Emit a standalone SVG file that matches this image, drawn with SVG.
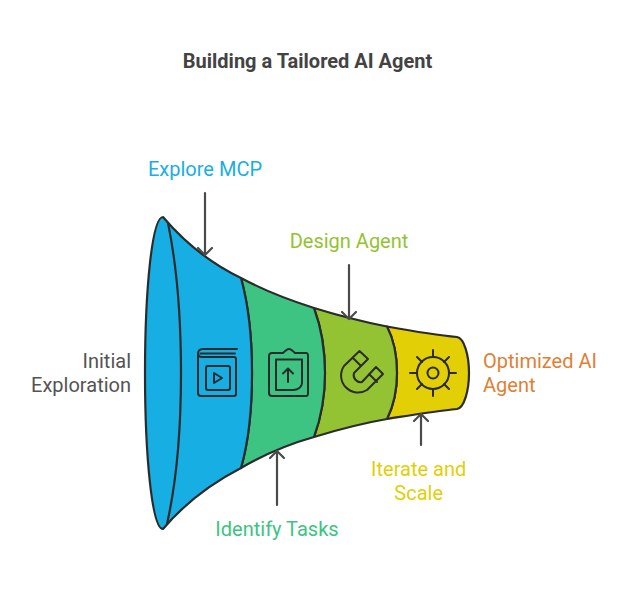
<svg xmlns="http://www.w3.org/2000/svg" width="638" height="590" viewBox="0 0 638 590">
<style>
text{font-family:Roboto,"Liberation Sans",sans-serif;font-size:20px}
.s{stroke:#2b2b2b;stroke-width:2.2;stroke-linejoin:round;stroke-linecap:round}
.i{fill:none;stroke:#2b2b2b;stroke-width:2;stroke-linejoin:round;stroke-linecap:round}
.a{fill:none;stroke:#4a4a4a;stroke-width:2.2;stroke-linecap:round;stroke-linejoin:round}
</style>
<rect width="638" height="590" fill="#fff"/>
<text x="307.500" y="68" text-anchor="middle" style="font-size:20px;font-weight:700" fill="#434343">Building a Tailored AI Agent</text>
<g id="stage-yellow">
<path class="s" fill="#e2cf06" d="M387 326.500C412 331 435 335 457 337C464 338 469 355 469 373C469 391 464 408 457 409C435 411 412 415 387 419C394 405 397 390 397 373C397 355 394 340 387 326.500Z"/>
<circle class="i" cx="433" cy="373" r="16"/><circle class="i" cx="433" cy="373" r="5.500"/>
<path class="i" d="M433 350V357M433 389V396M410 373H417M449 373H456M417 357L422 362M449 357L444 362M417 389L422 384M449 389L444 384"/>
</g>
<g id="stage-lime">
<path class="s" fill="#93c332" d="M314 308C340 316 364 322 387 326.500C394 340 397 355 397 373C397 390 394 405 387 419C364 423 340 429 314 437C321 418 325 396 325 373C325 349 321 327 314 308Z"/>
<path class="i" d="M359.500 351L368 359L354 373A7 7 0 0 0 362 382L376 367L383 374L367 390A17 17 0 0 1 344 366ZM353 358L361 366M369 374L377 382"/>
</g>
<g id="stage-green">
<path class="s" fill="#3dc482" d="M241 278C265 291 289 300 314 308C321 327 325 349 325 373C325 396 321 418 314 437C289 444 265 454 241 468C249 440 252 405 252 373C252 340 249 307 241 278Z"/>
<path class="i" d="M269 356C269 354 270 353 272 353H283C285 351 287 349 289 349C291 349 293 351 295 353H306C308 353 308 354 308 356V393C308 395 308 396 306 396H272C270 396 269 395 269 393Z"/>
<path class="i" d="M276 359.500H302V383C302 387 298 390 293 390H276ZM288 382V368.500M283 373.500L288 368.500L293 373.500"/>
</g>
<g id="stage-blue">
<path class="s" fill="#17aee3" d="M163 217C185 243 212 264 241 278C249 307 252 340 252 373C252 405 249 440 241 468C212 483 185 503 163 529C152 529 145 456 145 373C145 290 152 217 163 217Z"/>
<path class="s" fill="none" d="M168 223C176 262 181 315 181 373C181 431 176 484 167 524"/>
<path class="i" d="M237 349H203C200 349 198 351 198 354V393C198 395 199 396 201 396H234C235 396 236 395 236 394V359C236 358 235 357 234 357H202C199 357 198 355 198 353M200.500 353.500H235"/>
<rect class="i" x="206" y="366" width="24" height="24" rx="2"/>
<path class="i" d="M214 373L222 378L214 383Z"/>
</g>
<g id="connectors">
<path class="a" d="M205 193V254M198 248L205 255L212 248"/>
<path class="a" d="M349 265V318M342 312L349 319L356 312"/>
<path class="a" d="M277 505V452M270 458L277 451L284 458"/>
<path class="a" d="M421 445V415M414 421L421 414L428 421"/>
</g>
<g id="labels">
<text x="205" y="176" text-anchor="middle" fill="#1aaee5">Explore MCP</text>
<text x="349" y="248" text-anchor="middle" fill="#93c332">Design Agent</text>
<text x="277" y="536" text-anchor="middle" fill="#3dc482">Identify Tasks</text>
<text x="418.700" y="476" text-anchor="middle" fill="#e2cf06">Iterate and</text>
<text x="418.700" y="500" text-anchor="middle" fill="#e2cf06">Scale</text>
<text x="131" y="368" text-anchor="end" fill="#545454">Initial</text>
<text x="131" y="392" text-anchor="end" fill="#545454">Exploration</text>
<text x="483" y="368" fill="#e08035">Optimized AI</text>
<text x="483" y="392" fill="#e08035">Agent</text>
</g>
</svg>
